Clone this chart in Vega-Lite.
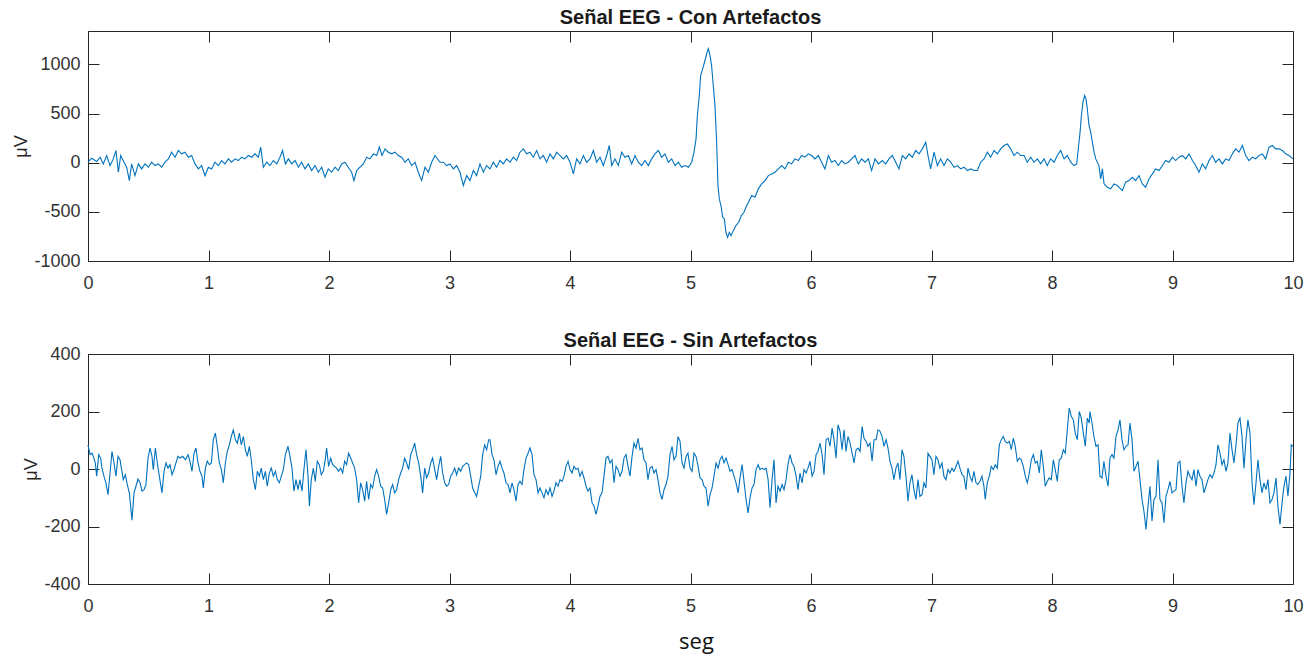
{
"$schema": "https://vega.github.io/schema/vega-lite/v6.json",
"background": "white",
"padding": {"left": 12, "top": 7, "right": 15, "bottom": 2},
"spacing": 37,
"config": {
"view": {"stroke": "#262626", "strokeWidth": 1},
"font": "Liberation Sans",
"axis": {"labelFont": "Liberation Sans", "labelFontSize": 18, "labelColor": "#333333", "labelFlush": false, "tickColor": "#262626", "tickWidth": 1, "tickSize": -11, "domain": false, "grid": false, "titleFont": "Liberation Sans", "titleFontSize": 18, "titleFontWeight": "normal", "titleColor": "#262626"},
"title": {"font": "Liberation Sans", "fontSize": 20, "fontWeight": "bold", "color": "#1a1a1a", "anchor": "middle"}
},
"datasets": {
"con": [{"t":0,"v":5},{"t":0.030,"v":46},{"t":0.072,"v":12},{"t":0.100,"v":56},{"t":0.127,"v":-12},{"t":0.155,"v":73},{"t":0.183,"v":-29},{"t":0.210,"v":39},{"t":0.232,"v":124},{"t":0.252,"v":-97},{"t":0.271,"v":73},{"t":0.299,"v":5},{"t":0.321,"v":-46},{"t":0.343,"v":-182},{"t":0.362,"v":-12},{"t":0.390,"v":-131},{"t":0.418,"v":-12},{"t":0.445,"v":-63},{"t":0.473,"v":-12},{"t":0.501,"v":-46},{"t":0.528,"v":5},{"t":0.556,"v":-29},{"t":0.584,"v":-12},{"t":0.611,"v":-46},{"t":0.639,"v":5},{"t":0.667,"v":39},{"t":0.694,"v":107},{"t":0.722,"v":56},{"t":0.750,"v":124},{"t":0.777,"v":90},{"t":0.805,"v":107},{"t":0.833,"v":56},{"t":0.860,"v":73},{"t":0.888,"v":-12},{"t":0.916,"v":-63},{"t":0.943,"v":-29},{"t":0.971,"v":-131},{"t":0.999,"v":-46},{"t":1.026,"v":-63},{"t":1.054,"v":5},{"t":1.082,"v":-29},{"t":1.109,"v":22},{"t":1.137,"v":-12},{"t":1.165,"v":39},{"t":1.192,"v":5},{"t":1.220,"v":39},{"t":1.248,"v":22},{"t":1.275,"v":56},{"t":1.303,"v":39},{"t":1.331,"v":73},{"t":1.358,"v":56},{"t":1.386,"v":90},{"t":1.414,"v":56},{"t":1.433,"v":158},{"t":1.455,"v":-46},{"t":1.483,"v":5},{"t":1.510,"v":-29},{"t":1.538,"v":22},{"t":1.566,"v":-12},{"t":1.593,"v":56},{"t":1.615,"v":124},{"t":1.638,"v":-12},{"t":1.663,"v":39},{"t":1.690,"v":-12},{"t":1.718,"v":22},{"t":1.746,"v":-46},{"t":1.773,"v":5},{"t":1.801,"v":-63},{"t":1.829,"v":-12},{"t":1.856,"v":-80},{"t":1.884,"v":-29},{"t":1.911,"v":-97},{"t":1.939,"v":-46},{"t":1.967,"v":-148},{"t":1.994,"v":-63},{"t":2.022,"v":-97},{"t":2.050,"v":-46},{"t":2.077,"v":-80},{"t":2.105,"v":-12},{"t":2.133,"v":5},{"t":2.160,"v":-46},{"t":2.188,"v":-97},{"t":2.207,"v":-182},{"t":2.230,"v":-80},{"t":2.257,"v":-46},{"t":2.285,"v":-12},{"t":2.313,"v":56},{"t":2.340,"v":39},{"t":2.368,"v":90},{"t":2.396,"v":73},{"t":2.418,"v":158},{"t":2.440,"v":73},{"t":2.465,"v":141},{"t":2.492,"v":107},{"t":2.520,"v":90},{"t":2.548,"v":107},{"t":2.575,"v":73},{"t":2.603,"v":56},{"t":2.631,"v":5},{"t":2.658,"v":39},{"t":2.686,"v":-29},{"t":2.714,"v":5},{"t":2.741,"v":-97},{"t":2.769,"v":-182},{"t":2.797,"v":-46},{"t":2.824,"v":-97},{"t":2.852,"v":5},{"t":2.880,"v":73},{"t":2.921,"v":5},
{"t":2.949,"v":5},{"t":2.976,"v":-29},{"t":3.004,"v":-12},{"t":3.032,"v":-63},{"t":3.059,"v":-29},{"t":3.087,"v":-97},{"t":3.115,"v":-232},{"t":3.142,"v":-131},{"t":3.170,"v":-182},{"t":3.198,"v":-80},{"t":3.225,"v":-131},{"t":3.253,"v":-12},{"t":3.281,"v":-97},{"t":3.308,"v":-29},{"t":3.336,"v":-63},{"t":3.364,"v":5},{"t":3.391,"v":-46},{"t":3.419,"v":22},{"t":3.447,"v":-12},{"t":3.474,"v":39},{"t":3.502,"v":5},{"t":3.530,"v":56},{"t":3.557,"v":22},{"t":3.585,"v":107},{"t":3.613,"v":141},{"t":3.640,"v":90},{"t":3.668,"v":107},{"t":3.696,"v":56},{"t":3.723,"v":124},{"t":3.751,"v":39},{"t":3.779,"v":73},{"t":3.806,"v":5},{"t":3.834,"v":90},{"t":3.862,"v":39},{"t":3.889,"v":107},{"t":3.917,"v":73},{"t":3.945,"v":39},{"t":3.972,"v":73},{"t":4.000,"v":5},{"t":4.028,"v":-114},{"t":4.055,"v":39},{"t":4.083,"v":-12},{"t":4.111,"v":73},{"t":4.138,"v":5},{"t":4.166,"v":39},{"t":4.194,"v":124},{"t":4.221,"v":5},{"t":4.249,"v":56},{"t":4.277,"v":-29},{"t":4.304,"v":73},{"t":4.326,"v":175},{"t":4.346,"v":-29},{"t":4.373,"v":39},{"t":4.401,"v":-29},{"t":4.429,"v":107},{"t":4.456,"v":56},{"t":4.484,"v":73},{"t":4.512,"v":-12},{"t":4.539,"v":73},{"t":4.567,"v":5},{"t":4.595,"v":-29},{"t":4.622,"v":22},{"t":4.650,"v":-29},{"t":4.678,"v":39},{"t":4.705,"v":90},{"t":4.733,"v":124},{"t":4.761,"v":56},{"t":4.788,"v":90},{"t":4.816,"v":5},{"t":4.844,"v":39},{"t":4.871,"v":-29},{"t":4.899,"v":5},{"t":4.927,"v":-46},{"t":4.954,"v":-29},{"t":4.982,"v":-46},{"t":5.010,"v":5},{"t":5.029,"v":107},{"t":5.046,"v":243},{"t":5.057,"v":480},{"t":5.073,"v":684},{"t":5.084,"v":887},{"t":5.101,"v":955},{"t":5.120,"v":1040},{"t":5.134,"v":1108},{"t":5.148,"v":1159},{"t":5.162,"v":1091},{"t":5.175,"v":989},{"t":5.189,"v":786},{"t":5.203,"v":582},{"t":5.217,"v":209},{"t":5.228,"v":-232},{"t":5.239,"v":-368},{"t":5.253,"v":-436},{"t":5.267,"v":-555},{"t":5.281,"v":-572},{"t":5.294,"v":-708},{"t":5.308,"v":-759},{"t":5.322,"v":-708},{"t":5.336,"v":-742},{"t":5.355,"v":-691},{"t":5.377,"v":-640},{"t":5.400,"v":-606},{"t":5.422,"v":-538},{"t":5.444,"v":-504},{"t":5.466,"v":-436},{"t":5.488,"v":-385},{"t":5.508,"v":-334},{"t":5.535,"v":-351},{"t":5.563,"v":-266},{"t":5.590,"v":-215},{"t":5.618,"v":-182},{"t":5.646,"v":-131},{"t":5.673,"v":-114},{"t":5.701,"v":-97},{"t":5.729,"v":-63},{"t":5.756,"v":-29},{"t":5.784,"v":-63},{"t":5.812,"v":5},{"t":5.839,"v":-12},{"t":5.867,"v":39},{"t":5.895,"v":22},{"t":5.922,"v":73},{"t":5.950,"v":56},{"t":5.978,"v":90},{"t":6.005,"v":73},{"t":6.033,"v":39},{"t":6.061,"v":73},{"t":6.088,"v":5},{"t":6.116,"v":-63},{"t":6.144,"v":73},{"t":6.171,"v":5},{"t":6.199,"v":22},{"t":6.227,"v":-29},{"t":6.254,"v":22},{"t":6.282,"v":-12},{"t":6.310,"v":5},{"t":6.337,"v":39},{"t":6.365,"v":73},{"t":6.393,"v":-12},{"t":6.420,"v":39},{"t":6.448,"v":5},{"t":6.476,"v":39},{"t":6.503,"v":-80},{"t":6.531,"v":39},{"t":6.559,"v":-12},
{"t":6.592,"v":22},{"t":6.620,"v":-12},{"t":6.647,"v":39},{"t":6.675,"v":73},{"t":6.703,"v":5},{"t":6.730,"v":-63},{"t":6.758,"v":73},{"t":6.786,"v":39},{"t":6.813,"v":90},{"t":6.841,"v":56},{"t":6.869,"v":124},{"t":6.896,"v":90},{"t":6.924,"v":141},{"t":6.952,"v":209},{"t":6.971,"v":73},{"t":6.993,"v":-63},{"t":7.021,"v":107},{"t":7.049,"v":-29},{"t":7.076,"v":39},{"t":7.104,"v":-29},{"t":7.132,"v":39},{"t":7.159,"v":5},{"t":7.187,"v":-46},{"t":7.215,"v":-29},{"t":7.242,"v":-63},{"t":7.270,"v":-46},{"t":7.298,"v":-80},{"t":7.325,"v":-63},{"t":7.353,"v":-80},{"t":7.381,"v":-80},{"t":7.408,"v":5},{"t":7.436,"v":39},{"t":7.464,"v":107},{"t":7.491,"v":56},{"t":7.519,"v":124},{"t":7.547,"v":90},{"t":7.574,"v":141},{"t":7.602,"v":175},{"t":7.630,"v":192},{"t":7.657,"v":141},{"t":7.685,"v":73},{"t":7.712,"v":107},{"t":7.740,"v":73},{"t":7.768,"v":73},{"t":7.795,"v":5},{"t":7.823,"v":56},{"t":7.851,"v":5},{"t":7.878,"v":39},{"t":7.906,"v":-12},{"t":7.934,"v":39},{"t":7.961,"v":-29},{"t":7.989,"v":39},{"t":8.017,"v":5},{"t":8.044,"v":73},{"t":8.072,"v":124},{"t":8.100,"v":39},{"t":8.127,"v":73},{"t":8.155,"v":5},{"t":8.183,"v":-29},{"t":8.205,"v":-12},{"t":8.221,"v":175},{"t":8.233,"v":311},{"t":8.244,"v":480},{"t":8.257,"v":616},{"t":8.271,"v":684},{"t":8.282,"v":650},{"t":8.293,"v":548},{"t":8.307,"v":379},{"t":8.321,"v":311},{"t":8.335,"v":209},{"t":8.349,"v":107},{"t":8.363,"v":39},{"t":8.376,"v":5},{"t":8.390,"v":-29},{"t":8.404,"v":-165},{"t":8.418,"v":-63},{"t":8.432,"v":-215},{"t":8.459,"v":-249},{"t":8.487,"v":-266},{"t":8.515,"v":-215},{"t":8.542,"v":-232},{"t":8.584,"v":-283},{"t":8.611,"v":-198},{"t":8.639,"v":-182},{"t":8.667,"v":-148},{"t":8.694,"v":-182},{"t":8.722,"v":-131},{"t":8.750,"v":-215},{"t":8.777,"v":-249},{"t":8.805,"v":-165},{"t":8.833,"v":-114},{"t":8.860,"v":-63},{"t":8.888,"v":-80},{"t":8.916,"v":-29},{"t":8.943,"v":22},{"t":8.971,"v":5},{"t":8.999,"v":56},{"t":9.026,"v":22},{"t":9.054,"v":56},{"t":9.082,"v":73},{"t":9.109,"v":39},{"t":9.137,"v":90},{"t":9.165,"v":22},{"t":9.192,"v":-29},{"t":9.220,"v":-97},{"t":9.248,"v":-12},{"t":9.275,"v":-63},{"t":9.303,"v":22},{"t":9.331,"v":73},{"t":9.358,"v":5},{"t":9.386,"v":39},{"t":9.414,"v":-12},{"t":9.441,"v":39},{"t":9.469,"v":22},{"t":9.497,"v":90},{"t":9.524,"v":141},{"t":9.552,"v":107},{"t":9.580,"v":175},{"t":9.607,"v":73},{"t":9.635,"v":22},{"t":9.663,"v":56},{"t":9.690,"v":39},{"t":9.718,"v":73},{"t":9.746,"v":90},{"t":9.773,"v":39},{"t":9.801,"v":158},{"t":9.829,"v":175},{"t":9.856,"v":141},{"t":9.884,"v":141},{"t":9.912,"v":124},{"t":9.939,"v":90},{"t":9.967,"v":73},{"t":10.0,"v":39}],
"sin": [{"t":0.000,"v":84},{"t":0.017,"v":50},{"t":0.033,"v":55},{"t":0.044,"v":44},{"t":0.061,"v":20},{"t":0.072,"v":-25},{"t":0.089,"v":50},{"t":0.105,"v":38},{"t":0.116,"v":3},{"t":0.136,"v":-31},{"t":0.149,"v":-48},{"t":0.166,"v":-89},{"t":0.183,"v":-14},{"t":0.199,"v":61},{"t":0.216,"v":21},{"t":0.232,"v":-25},{"t":0.249,"v":44},{"t":0.266,"v":32},{"t":0.277,"v":3},{"t":0.293,"v":-37},{"t":0.310,"v":-20},{"t":0.326,"v":-54},{"t":0.343,"v":-83},{"t":0.365,"v":-178},{"t":0.382,"v":-83},{"t":0.398,"v":-60},{"t":0.415,"v":-35},{"t":0.432,"v":-48},{"t":0.448,"v":-77},{"t":0.465,"v":-72},{"t":0.481,"v":-54},{"t":0.498,"v":38},{"t":0.515,"v":73},{"t":0.531,"v":44},{"t":0.542,"v":-2},{"t":0.559,"v":73},{"t":0.575,"v":21},{"t":0.592,"v":-25},{"t":0.614,"v":-83},{"t":0.631,"v":-8},{"t":0.647,"v":21},{"t":0.664,"v":3},{"t":0.681,"v":15},{"t":0.697,"v":-20},{"t":0.714,"v":-2},{"t":0.730,"v":21},{"t":0.747,"v":44},{"t":0.763,"v":38},{"t":0.786,"v":44},{"t":0.808,"v":32},{"t":0.830,"v":50},{"t":0.846,"v":27},{"t":0.863,"v":-8},{"t":0.880,"v":55},{"t":0.896,"v":73},{"t":0.913,"v":21},{"t":0.929,"v":-8},{"t":0.946,"v":-25},{"t":0.957,"v":-66},{"t":0.974,"v":3},{"t":0.990,"v":27},{"t":1.007,"v":15},{"t":1.024,"v":21},{"t":1.040,"v":102},{"t":1.057,"v":125},{"t":1.073,"v":79},{"t":1.090,"v":21},{"t":1.107,"v":-2},{"t":1.123,"v":-48},{"t":1.140,"v":21},{"t":1.156,"v":61},{"t":1.173,"v":84},{"t":1.189,"v":113},{"t":1.206,"v":136},{"t":1.223,"v":102},{"t":1.239,"v":90},{"t":1.256,"v":125},{"t":1.272,"v":84},{"t":1.289,"v":113},{"t":1.306,"v":67},{"t":1.322,"v":44},{"t":1.339,"v":79},{"t":1.355,"v":32},{"t":1.372,"v":-37},{"t":1.389,"v":-72},{"t":1.405,"v":-8},{"t":1.422,"v":-25},{"t":1.438,"v":3},{"t":1.455,"v":-37},{"t":1.472,"v":-8},{"t":1.488,"v":-60},{"t":1.505,"v":-14},{"t":1.521,"v":3},{"t":1.538,"v":-25},{"t":1.555,"v":-8},{"t":1.571,"v":-37},{"t":1.588,"v":-48},{"t":1.604,"v":-25},{"t":1.621,"v":-2},{"t":1.638,"v":50},{"t":1.660,"v":79},
{"t":1.676,"v":44},{"t":1.693,"v":3},{"t":1.709,"v":-77},{"t":1.726,"v":-37},{"t":1.743,"v":-72},{"t":1.759,"v":-37},{"t":1.776,"v":-77},{"t":1.792,"v":-2},{"t":1.809,"v":67},{"t":1.826,"v":-25},{"t":1.837,"v":-129},{"t":1.853,"v":-37},{"t":1.870,"v":3},{"t":1.886,"v":-43},{"t":1.903,"v":27},{"t":1.920,"v":15},{"t":1.936,"v":-20},{"t":1.953,"v":-8},{"t":1.969,"v":32},{"t":1.980,"v":73},{"t":1.997,"v":9},{"t":2.014,"v":38},{"t":2.030,"v":15},{"t":2.047,"v":9},{"t":2.063,"v":3},{"t":2.080,"v":-8},{"t":2.097,"v":3},{"t":2.113,"v":-14},{"t":2.130,"v":27},{"t":2.146,"v":15},{"t":2.163,"v":55},{"t":2.180,"v":38},{"t":2.196,"v":21},{"t":2.213,"v":3},{"t":2.229,"v":-37},{"t":2.246,"v":-118},{"t":2.263,"v":-48},{"t":2.279,"v":-72},{"t":2.296,"v":-112},{"t":2.312,"v":-43},{"t":2.329,"v":-106},{"t":2.346,"v":-54},{"t":2.362,"v":-66},{"t":2.379,"v":-25},{"t":2.395,"v":-2},{"t":2.412,"v":-25},{"t":2.429,"v":-60},{"t":2.445,"v":-66},{"t":2.462,"v":-106},{"t":2.478,"v":-158},{"t":2.495,"v":-118},{"t":2.512,"v":-72},{"t":2.528,"v":-54},{"t":2.545,"v":-83},{"t":2.561,"v":-72},{"t":2.578,"v":-37},{"t":2.595,"v":-14},{"t":2.611,"v":3},{"t":2.628,"v":38},{"t":2.644,"v":21},{"t":2.661,"v":-2},{"t":2.678,"v":50},{"t":2.694,"v":67},{"t":2.711,"v":90},{"t":2.727,"v":50},{"t":2.744,"v":21},{"t":2.761,"v":-25},{"t":2.777,"v":-83},{"t":2.794,"v":3},{"t":2.810,"v":-31},{"t":2.827,"v":-14},{"t":2.844,"v":21},{"t":2.860,"v":38},{"t":2.877,"v":-2},{"t":2.893,"v":-37},{"t":2.910,"v":9},{"t":2.927,"v":44},{"t":2.943,"v":-14},{"t":2.960,"v":-48},{"t":2.976,"v":-60},{"t":2.993,"v":-54},{"t":3.010,"v":-25},{"t":3.026,"v":-14},{"t":3.043,"v":3},{"t":3.059,"v":-20},{"t":3.076,"v":3},{"t":3.093,"v":-8},{"t":3.109,"v":9},{"t":3.126,"v":15},{"t":3.142,"v":21},{"t":3.159,"v":15},{"t":3.176,"v":-25},{"t":3.192,"v":-66},{"t":3.209,"v":-83},{"t":3.225,"v":-95},{"t":3.242,"v":-60},{"t":3.259,"v":-25},{"t":3.275,"v":50},{"t":3.292,"v":84},{"t":3.308,"v":67},{"t":3.325,"v":102},
{"t":3.336,"v":102},{"t":3.353,"v":50},{"t":3.369,"v":32},{"t":3.386,"v":-20},{"t":3.403,"v":9},{"t":3.419,"v":27},{"t":3.436,"v":3},{"t":3.452,"v":-14},{"t":3.469,"v":-48},{"t":3.486,"v":-54},{"t":3.502,"v":-83},{"t":3.519,"v":-48},{"t":3.535,"v":-72},{"t":3.552,"v":-112},{"t":3.569,"v":-54},{"t":3.585,"v":-43},{"t":3.602,"v":-54},{"t":3.618,"v":-2},{"t":3.635,"v":38},{"t":3.652,"v":55},{"t":3.668,"v":73},{"t":3.685,"v":50},{"t":3.701,"v":-20},{"t":3.718,"v":-37},{"t":3.735,"v":-83},{"t":3.751,"v":-66},{"t":3.768,"v":-83},{"t":3.784,"v":-100},{"t":3.801,"v":-72},{"t":3.818,"v":-89},{"t":3.834,"v":-66},{"t":3.851,"v":-95},{"t":3.867,"v":-77},{"t":3.884,"v":-48},{"t":3.901,"v":-60},{"t":3.917,"v":-37},{"t":3.934,"v":-43},{"t":3.950,"v":-25},{"t":3.967,"v":9},{"t":3.984,"v":27},{"t":4.000,"v":-2},{"t":4.017,"v":-14},{"t":4.033,"v":9},{"t":4.050,"v":-2},{"t":4.066,"v":3},{"t":4.083,"v":-25},{"t":4.100,"v":-8},{"t":4.116,"v":-31},{"t":4.133,"v":-60},{"t":4.149,"v":-77},{"t":4.166,"v":-66},{"t":4.183,"v":-118},{"t":4.199,"v":-129},{"t":4.216,"v":-158},{"t":4.232,"v":-129},{"t":4.249,"v":-95},{"t":4.266,"v":-83},{"t":4.282,"v":-25},{"t":4.299,"v":38},{"t":4.315,"v":44},{"t":4.332,"v":21},{"t":4.349,"v":32},{"t":4.365,"v":-48},{"t":4.382,"v":9},{"t":4.398,"v":-2},{"t":4.415,"v":-25},{"t":4.432,"v":-8},{"t":4.448,"v":38},{"t":4.465,"v":50},{"t":4.481,"v":9},{"t":4.498,"v":-25},{"t":4.515,"v":44},{"t":4.531,"v":90},{"t":4.548,"v":73},{"t":4.564,"v":107},{"t":4.581,"v":67},{"t":4.598,"v":73},{"t":4.614,"v":32},{"t":4.631,"v":21},{"t":4.647,"v":-37},{"t":4.664,"v":3},{"t":4.681,"v":9},{"t":4.697,"v":-14},{"t":4.714,"v":-2},{"t":4.730,"v":-37},{"t":4.747,"v":-83},{"t":4.764,"v":-106},{"t":4.780,"v":-72},{"t":4.797,"v":-54},{"t":4.813,"v":-25},{"t":4.830,"v":50},{"t":4.847,"v":79},{"t":4.863,"v":32},{"t":4.880,"v":44},{"t":4.896,"v":113},{"t":4.913,"v":96},{"t":4.930,"v":21},{"t":4.946,"v":3},{"t":4.963,"v":44},{"t":4.979,"v":55},
{"t":4.996,"v":3},{"t":5.013,"v":-8},{"t":5.029,"v":55},{"t":5.046,"v":44},{"t":5.063,"v":9},{"t":5.079,"v":-31},{"t":5.096,"v":-37},{"t":5.112,"v":-60},{"t":5.129,"v":-66},{"t":5.146,"v":-129},{"t":5.162,"v":-89},{"t":5.179,"v":-66},{"t":5.195,"v":-25},{"t":5.212,"v":21},{"t":5.229,"v":3},{"t":5.245,"v":32},{"t":5.262,"v":44},{"t":5.278,"v":21},{"t":5.295,"v":38},{"t":5.312,"v":15},{"t":5.328,"v":-8},{"t":5.345,"v":-2},{"t":5.361,"v":-25},{"t":5.378,"v":-48},{"t":5.395,"v":-83},{"t":5.411,"v":-31},{"t":5.428,"v":15},{"t":5.444,"v":-43},{"t":5.461,"v":-106},{"t":5.478,"v":-153},{"t":5.494,"v":-100},{"t":5.511,"v":-66},{"t":5.527,"v":-54},{"t":5.544,"v":-2},{"t":5.561,"v":15},{"t":5.577,"v":-2},{"t":5.594,"v":3},{"t":5.610,"v":-2},{"t":5.627,"v":3},{"t":5.644,"v":-37},{"t":5.660,"v":-135},{"t":5.677,"v":-37},{"t":5.693,"v":32},{"t":5.710,"v":-118},{"t":5.726,"v":-60},{"t":5.743,"v":-77},{"t":5.760,"v":-54},{"t":5.776,"v":-72},{"t":5.793,"v":-37},{"t":5.809,"v":15},{"t":5.826,"v":50},{"t":5.843,"v":21},{"t":5.859,"v":9},{"t":5.876,"v":-25},{"t":5.892,"v":-72},{"t":5.909,"v":-14},{"t":5.926,"v":-48},{"t":5.942,"v":-2},{"t":5.959,"v":-14},{"t":5.975,"v":3},{"t":5.992,"v":27},{"t":6.009,"v":-25},{"t":6.025,"v":-8},{"t":6.042,"v":50},{"t":6.058,"v":61},{"t":6.075,"v":90},{"t":6.092,"v":50},{"t":6.108,"v":-20},{"t":6.125,"v":102},{"t":6.141,"v":107},{"t":6.158,"v":79},{"t":6.175,"v":142},{"t":6.191,"v":102},{"t":6.208,"v":38},{"t":6.224,"v":154},{"t":6.241,"v":131},{"t":6.258,"v":67},{"t":6.274,"v":136},{"t":6.291,"v":61},{"t":6.307,"v":113},{"t":6.324,"v":90},{"t":6.341,"v":55},{"t":6.357,"v":21},{"t":6.374,"v":67},{"t":6.390,"v":73},{"t":6.407,"v":61},{"t":6.424,"v":148},{"t":6.440,"v":107},{"t":6.457,"v":96},{"t":6.473,"v":79},{"t":6.490,"v":90},{"t":6.507,"v":27},{"t":6.523,"v":102},{"t":6.540,"v":102},{"t":6.556,"v":136},{"t":6.573,"v":131},{"t":6.590,"v":113},{"t":6.606,"v":79},{"t":6.623,"v":102},{"t":6.639,"v":73},
{"t":6.655,"v":27},{"t":6.672,"v":3},{"t":6.688,"v":-37},{"t":6.705,"v":3},{"t":6.722,"v":21},{"t":6.738,"v":-37},{"t":6.755,"v":67},{"t":6.771,"v":44},{"t":6.788,"v":-25},{"t":6.805,"v":-112},{"t":6.821,"v":-48},{"t":6.838,"v":-20},{"t":6.854,"v":-72},{"t":6.871,"v":-106},{"t":6.888,"v":-37},{"t":6.904,"v":-95},{"t":6.921,"v":-89},{"t":6.937,"v":-48},{"t":6.954,"v":-66},{"t":6.971,"v":55},{"t":6.987,"v":44},{"t":7.004,"v":32},{"t":7.020,"v":-20},{"t":7.037,"v":44},{"t":7.054,"v":32},{"t":7.070,"v":3},{"t":7.087,"v":21},{"t":7.103,"v":-25},{"t":7.120,"v":-37},{"t":7.137,"v":-2},{"t":7.153,"v":-14},{"t":7.170,"v":3},{"t":7.186,"v":-8},{"t":7.203,"v":9},{"t":7.220,"v":27},{"t":7.236,"v":3},{"t":7.253,"v":-20},{"t":7.269,"v":-25},{"t":7.286,"v":-72},{"t":7.303,"v":3},{"t":7.319,"v":-25},{"t":7.336,"v":-43},{"t":7.352,"v":-8},{"t":7.369,"v":-48},{"t":7.385,"v":-54},{"t":7.402,"v":-43},{"t":7.419,"v":-25},{"t":7.435,"v":-60},{"t":7.446,"v":-106},{"t":7.463,"v":-48},{"t":7.480,"v":-25},{"t":7.496,"v":9},{"t":7.513,"v":-2},{"t":7.529,"v":15},{"t":7.546,"v":3},{"t":7.563,"v":84},{"t":7.579,"v":102},{"t":7.596,"v":113},{"t":7.612,"v":96},{"t":7.629,"v":90},{"t":7.646,"v":96},{"t":7.662,"v":67},{"t":7.679,"v":107},{"t":7.695,"v":79},{"t":7.712,"v":27},{"t":7.729,"v":38},{"t":7.745,"v":32},{"t":7.762,"v":9},{"t":7.778,"v":-25},{"t":7.795,"v":-48},{"t":7.812,"v":-14},{"t":7.828,"v":32},{"t":7.845,"v":50},{"t":7.861,"v":21},{"t":7.878,"v":27},{"t":7.895,"v":-14},{"t":7.911,"v":67},{"t":7.928,"v":9},{"t":7.944,"v":-60},{"t":7.961,"v":-43},{"t":7.977,"v":-31},{"t":7.994,"v":-37},{"t":8.011,"v":32},{"t":8.027,"v":-2},{"t":8.044,"v":-43},{"t":8.060,"v":32},{"t":8.077,"v":38},{"t":8.094,"v":67},{"t":8.110,"v":55},{"t":8.127,"v":136},{"t":8.143,"v":212},{"t":8.160,"v":183},{"t":8.177,"v":171},{"t":8.193,"v":125},{"t":8.210,"v":102},{"t":8.226,"v":200},{"t":8.243,"v":177},{"t":8.260,"v":125},{"t":8.276,"v":79},{"t":8.293,"v":177},{"t":8.309,"v":160},
{"t":8.315,"v":200},{"t":8.332,"v":160},{"t":8.348,"v":113},{"t":8.365,"v":79},{"t":8.382,"v":84},{"t":8.398,"v":-25},{"t":8.415,"v":-31},{"t":8.431,"v":27},{"t":8.448,"v":-25},{"t":8.465,"v":-60},{"t":8.481,"v":38},{"t":8.498,"v":50},{"t":8.514,"v":38},{"t":8.531,"v":113},{"t":8.548,"v":136},{"t":8.564,"v":171},{"t":8.581,"v":102},{"t":8.597,"v":67},{"t":8.614,"v":79},{"t":8.631,"v":84},{"t":8.647,"v":160},{"t":8.664,"v":102},{"t":8.680,"v":-8},{"t":8.697,"v":9},{"t":8.714,"v":27},{"t":8.730,"v":-37},{"t":8.747,"v":-106},{"t":8.763,"v":-147},{"t":8.780,"v":-210},{"t":8.797,"v":-129},{"t":8.813,"v":-60},{"t":8.830,"v":-181},{"t":8.846,"v":-106},{"t":8.863,"v":-95},{"t":8.880,"v":32},{"t":8.896,"v":-106},{"t":8.913,"v":-118},{"t":8.929,"v":-187},{"t":8.946,"v":-95},{"t":8.962,"v":-72},{"t":8.979,"v":-43},{"t":8.996,"v":-83},{"t":9.012,"v":-77},{"t":9.029,"v":-72},{"t":9.045,"v":21},{"t":9.062,"v":27},{"t":9.079,"v":-60},{"t":9.095,"v":-118},{"t":9.112,"v":-48},{"t":9.128,"v":-8},{"t":9.145,"v":-25},{"t":9.162,"v":-37},{"t":9.178,"v":-2},{"t":9.195,"v":-60},{"t":9.211,"v":-2},{"t":9.228,"v":-25},{"t":9.245,"v":-37},{"t":9.261,"v":-83},{"t":9.278,"v":-60},{"t":9.294,"v":-37},{"t":9.311,"v":-20},{"t":9.328,"v":-31},{"t":9.344,"v":-14},{"t":9.361,"v":15},{"t":9.377,"v":84},{"t":9.394,"v":55},{"t":9.411,"v":15},{"t":9.427,"v":32},{"t":9.444,"v":-8},{"t":9.460,"v":21},{"t":9.477,"v":125},{"t":9.494,"v":67},{"t":9.510,"v":21},{"t":9.527,"v":84},{"t":9.543,"v":160},{"t":9.560,"v":177},{"t":9.577,"v":113},{"t":9.593,"v":3},{"t":9.610,"v":102},{"t":9.626,"v":171},{"t":9.643,"v":125},{"t":9.660,"v":-48},{"t":9.676,"v":-124},{"t":9.693,"v":-48},{"t":9.709,"v":32},{"t":9.726,"v":-37},{"t":9.743,"v":-83},{"t":9.759,"v":-48},{"t":9.776,"v":-72},{"t":9.792,"v":-37},{"t":9.809,"v":-118},{"t":9.826,"v":-106},{"t":9.842,"v":-83},{"t":9.859,"v":-31},{"t":9.875,"v":-129},{"t":9.892,"v":-193},{"t":9.909,"v":-118},{"t":9.925,"v":-60},{"t":9.942,"v":-25},{"t":9.958,"v":-95},{"t":9.975,"v":-14},{"t":9.986,"v":84},{"t":10.000,"v":79}]
},
"vconcat": [
{
"width": 1205, "height": 230,
"title": {"text": "Señal EEG - Con Artefactos", "offset": 3},
"data": {"name": "con"},
"layer": [
{"mark": {"type": "line", "color": "#0072BD", "strokeWidth": 1.1},
"encoding": {
"x": {"field": "t", "type": "quantitative", "scale": {"domain": [0, 10], "nice": false, "zero": false}, "axis": {"orient": "bottom", "values": [0,1,2,3,4,5,6,7,8,9,10], "title": null, "labelPadding": 24}},
"y": {"field": "v", "type": "quantitative", "scale": {"domain": [-1000, 1340], "nice": false, "zero": false}, "axis": {"orient": "left", "values": [-1000,-500,0,500,1000], "labelExpr": "'' + datum.value", "title": "μV", "labelPadding": 19, "titlePadding": 3}}
}},
{"mark": {"type": "line", "strokeOpacity": 0},
"encoding": {
"x": {"field": "t", "type": "quantitative", "axis": {"orient": "top", "values": [0,1,2,3,4,5,6,7,8,9,10], "labels": false, "title": null}},
"y": {"field": "v", "type": "quantitative", "axis": {"orient": "right", "values": [-1000,-500,0,500,1000], "labels": false, "title": null}}
}}
],
"resolve": {"axis": {"x": "independent", "y": "independent"}}
},
{
"width": 1205, "height": 230,
"title": {"text": "Señal EEG - Sin Artefactos", "offset": -6},
"data": {"name": "sin"},
"layer": [
{"mark": {"type": "line", "color": "#0072BD", "strokeWidth": 1.1},
"encoding": {
"x": {"field": "t", "type": "quantitative", "scale": {"domain": [0, 10], "nice": false, "zero": false}, "axis": {"orient": "bottom", "values": [0,1,2,3,4,5,6,7,8,9,10], "title": "seg", "labelPadding": 24, "titleFont": "Open Sans", "titleFontSize": 22, "titleColor": "#111111", "titlePadding": 16, "titleX": 608}},
"y": {"field": "v", "type": "quantitative", "scale": {"domain": [-400, 400], "nice": false, "zero": false}, "axis": {"orient": "left", "values": [-400,-200,0,200,400], "labelExpr": "'' + datum.value", "title": "μV", "labelPadding": 19, "titlePadding": 3}}
}},
{"mark": {"type": "line", "strokeOpacity": 0},
"encoding": {
"x": {"field": "t", "type": "quantitative", "axis": {"orient": "top", "values": [0,1,2,3,4,5,6,7,8,9,10], "labels": false, "title": null}},
"y": {"field": "v", "type": "quantitative", "axis": {"orient": "right", "values": [-400,-200,0,200,400], "labels": false, "title": null}}
}}
],
"resolve": {"axis": {"x": "independent", "y": "independent"}}
}
]
}
